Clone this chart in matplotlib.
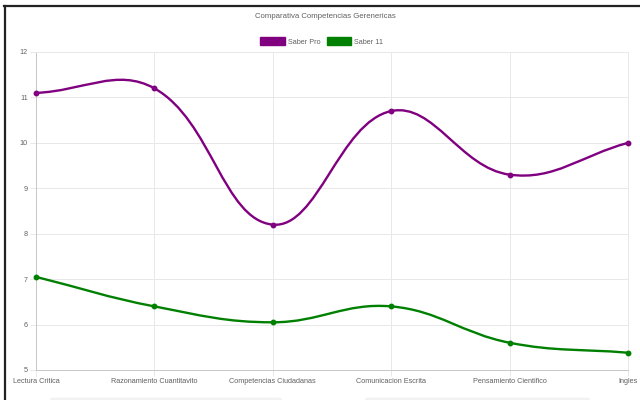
import matplotlib
matplotlib.use("Agg")
import matplotlib.pyplot as plt
import numpy as np
from matplotlib.path import Path
from matplotlib.patches import PathPatch, Patch, FancyBboxPatch
from matplotlib.lines import Line2D

plt.rcParams['font.family'] = ['Liberation Sans', 'DejaVu Sans']

categories = ["Lectura Critica", "Razonamiento Cuantitavito", "Competencias Ciudadanas",
              "Comunicacion Escrita", "Pensamiento Cientifico", "Ingles"]
saber_pro = [11.1, 11.2, 8.2, 10.7, 9.3, 10.0]
saber_11 = [7.05, 6.4, 6.05, 6.4, 5.6, 5.38]
y_ticks = [5, 6, 7, 8, 9, 10, 11, 12]

series = [("Saber Pro", saber_pro, "#800080"), ("Saber 11", saber_11, "#008000")]
TENSION = 0.4
GREY_TXT = "#606060"
GRID = "#e8e8e8"


def chartjs_spline(ax, xs, ys, t=TENSION):
    # bezier control points the way chart.js builds them (pixel space)
    pts = ax.transData.transform(np.column_stack([xs, ys]))
    n = len(pts)
    x0, y0, x1, y1 = ax.bbox.x0, ax.bbox.y0, ax.bbox.x1, ax.bbox.y1
    cp_prev, cp_next = [], []
    for i in range(n):
        prev, cur, nxt = pts[max(i - 1, 0)], pts[i], pts[min(i + 1, n - 1)]
        d01 = np.hypot(*(cur - prev))
        d12 = np.hypot(*(nxt - cur))
        tot = d01 + d12
        s01 = d01 / tot if tot else 0.0
        s12 = d12 / tot if tot else 0.0
        a = cur - t * s01 * (nxt - prev)
        b = cur + t * s12 * (nxt - prev)
        cp_prev.append(np.clip(a, [x0, y0], [x1, y1]))
        cp_next.append(np.clip(b, [x0, y0], [x1, y1]))
    verts = [pts[0]]
    codes = [Path.MOVETO]
    for i in range(n - 1):
        verts += [cp_next[i], cp_prev[i + 1], pts[i + 1]]
        codes += [Path.CURVE4] * 3
    verts = ax.transData.inverted().transform(np.array(verts))
    return Path(verts, codes)


fig = plt.figure(figsize=(6.4, 4.0), dpi=100)
ax = fig.add_axes([36 / 640, 30 / 400, 592 / 640, 318 / 400])
x = np.arange(len(categories))
ax.set_xlim(0, len(categories) - 1)
ax.set_ylim(y_ticks[0], y_ticks[-1])

ax.set_xticks(x)
ax.set_xticklabels(categories, fontsize=5.2, color=GREY_TXT)
ax.set_yticks(y_ticks)
ax.set_yticklabels([str(v) for v in y_ticks], fontsize=5.2, color=GREY_TXT)
ax.tick_params(length=4, width=0.7, color=GRID, pad=2)
ax.grid(True, color=GRID, lw=0.7)
ax.set_axisbelow(True)
for side in ["top", "right"]:
    ax.spines[side].set_color(GRID)
    ax.spines[side].set_linewidth(0.7)
for side in ["left", "bottom"]:
    ax.spines[side].set_color("#c8c8c8")
    ax.spines[side].set_linewidth(0.7)

for name, vals, col in series:
    ax.add_patch(PathPatch(chartjs_spline(ax, x, vals), fill=False, edgecolor=col,
                           lw=1.7, capstyle='round', joinstyle='round', zorder=3))
    ax.plot(x, vals, 'o', ms=3.2, color=col, zorder=4, clip_on=False)

fig.text(0.508, 1 - 17 / 400, "Comparativa Competencias Gerenericas",
         ha='center', va='center', fontsize=5.6, color=GREY_TXT)

handles = [Patch(facecolor=c, edgecolor=c, label=n) for n, _, c in series]
fig.legend(handles=handles, loc='center', bbox_to_anchor=(0.503, 1 - 41.5 / 400),
           ncol=2, frameon=False, fontsize=5.2, labelcolor=GREY_TXT,
           handlelength=3.4, handleheight=1.2, handletextpad=0.45, columnspacing=0.8)

# screenshot frame and faint widgets cut off at the bottom
fig.add_artist(Line2D([4 / 640, 1], [1 - 6 / 400] * 2, transform=fig.transFigure,
                      color="#222222", lw=1.6))
fig.add_artist(Line2D([5 / 640] * 2, [0, 1 - 6 / 400], transform=fig.transFigure,
                      color="#222222", lw=1.6))
for left, right in [(50, 282), (365, 590)]:
    fig.add_artist(FancyBboxPatch((left / 640, -0.01), (right - left) / 640, 0.016,
                                  boxstyle="round,pad=0,rounding_size=0.005",
                                  transform=fig.transFigure, facecolor="#f2f2f2",
                                  edgecolor="none"))

fig.savefig("out.png", dpi=100)
